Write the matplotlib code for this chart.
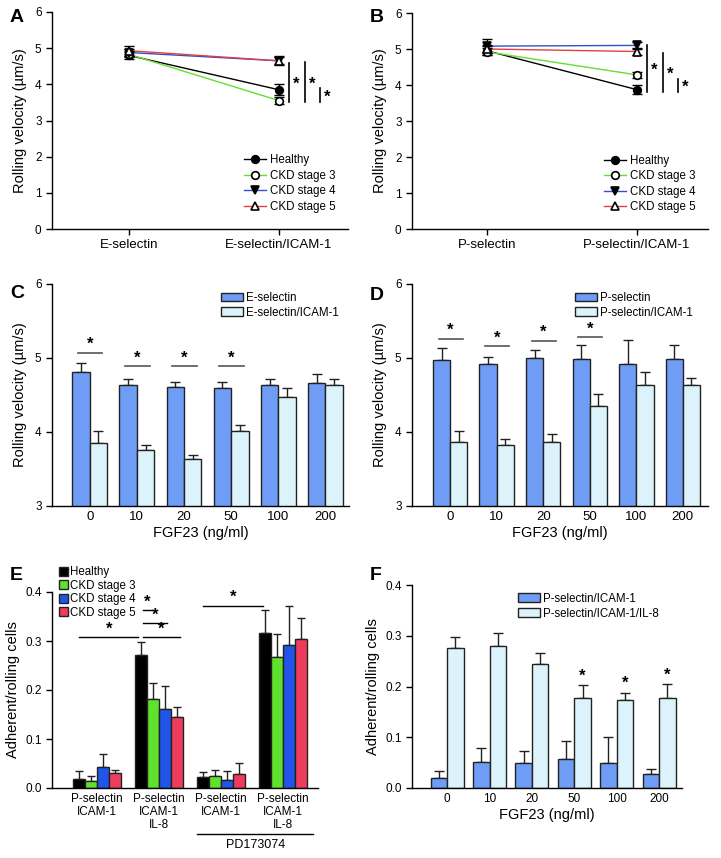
import matplotlib
matplotlib.use("Agg")
import matplotlib.pyplot as plt
import numpy as np
from matplotlib.patches import Patch
from matplotlib.lines import Line2D
from matplotlib.transforms import blended_transform_factory

plt.rcParams['font.family'] = ['Liberation Sans', 'DejaVu Sans']
plt.rcParams['font.size'] = 8.5
plt.rcParams['axes.linewidth'] = 1.0
plt.rcParams['xtick.major.width'] = 1.0
plt.rcParams['ytick.major.width'] = 1.0
plt.rcParams['xtick.major.size'] = 4
plt.rcParams['ytick.major.size'] = 4

# ---- data ----
groups_ckd = ['Healthy', 'CKD stage 3', 'CKD stage 4', 'CKD stage 5']

# panel A: E-selectin, E-selectin/ICAM-1
a_cats = ['E-selectin', 'E-selectin/ICAM-1']
a_mean = {'Healthy': [4.80, 3.85], 'CKD stage 3': [4.83, 3.55],
          'CKD stage 4': [4.88, 4.65], 'CKD stage 5': [4.93, 4.65]}
a_err = {'Healthy': [0.10, 0.15], 'CKD stage 3': [0.08, 0.10],
         'CKD stage 4': [0.10, 0.10], 'CKD stage 5': [0.14, 0.12]}

# panel B: P-selectin, P-selectin/ICAM-1
b_cats = ['P-selectin', 'P-selectin/ICAM-1']
b_mean = {'Healthy': [4.95, 3.87], 'CKD stage 3': [4.92, 4.28],
          'CKD stage 4': [5.08, 5.10], 'CKD stage 5': [5.00, 4.93]}
b_err = {'Healthy': [0.12, 0.12], 'CKD stage 3': [0.10, 0.08],
         'CKD stage 4': [0.20, 0.10], 'CKD stage 5': [0.12, 0.10]}

fgf_doses = ['0', '10', '20', '50', '100', '200']

# panel C
c_esel = [4.81, 4.63, 4.61, 4.59, 4.63, 4.66]
c_esel_err = [0.12, 0.09, 0.07, 0.09, 0.09, 0.13]
c_icam = [3.85, 3.76, 3.63, 4.02, 4.47, 4.63]
c_icam_err = [0.16, 0.06, 0.06, 0.07, 0.12, 0.09]
c_sig_y = [5.07, 4.89, 4.89, 4.89]

# panel D
d_psel = [4.97, 4.92, 5.00, 4.98, 4.92, 4.99]
d_psel_err = [0.17, 0.10, 0.11, 0.20, 0.32, 0.18]
d_icam = [3.87, 3.83, 3.86, 4.35, 4.64, 4.64]
d_icam_err = [0.14, 0.08, 0.11, 0.16, 0.17, 0.09]
d_sig_y = [5.26, 5.16, 5.23, 5.28]

# panel E
e_cats = ['P-selectin\nICAM-1', 'P-selectin\nICAM-1\nIL-8',
          'P-selectin\nICAM-1', 'P-selectin\nICAM-1\nIL-8']
e_mean = {'Healthy': [0.019, 0.271, 0.022, 0.317],
          'CKD stage 3': [0.014, 0.182, 0.025, 0.268],
          'CKD stage 4': [0.043, 0.162, 0.017, 0.291],
          'CKD stage 5': [0.031, 0.145, 0.029, 0.304]}
e_err = {'Healthy': [0.016, 0.027, 0.011, 0.046],
         'CKD stage 3': [0.010, 0.032, 0.011, 0.046],
         'CKD stage 4': [0.027, 0.046, 0.017, 0.081],
         'CKD stage 5': [0.005, 0.020, 0.022, 0.042]}

# panel F
f_icam = [0.020, 0.052, 0.050, 0.057, 0.050, 0.028]
f_icam_err = [0.013, 0.027, 0.022, 0.035, 0.050, 0.009]
f_il8 = [0.275, 0.279, 0.244, 0.178, 0.174, 0.177]
f_il8_err = [0.022, 0.027, 0.022, 0.024, 0.014, 0.027]
f_sig = [False, False, False, True, True, True]

line_colors = {'Healthy': 'black', 'CKD stage 3': '#66dd33',
               'CKD stage 4': '#3050d0', 'CKD stage 5': '#e04040'}
markers = {'Healthy': ('o', 'black'), 'CKD stage 3': ('o', 'white'),
           'CKD stage 4': ('v', 'black'), 'CKD stage 5': ('^', 'white')}
bar_colors = {'Healthy': 'black', 'CKD stage 3': '#5fe22d',
              'CKD stage 4': '#2155e8', 'CKD stage 5': '#ee3d5c'}
dark_blue = '#6f9cf4'
light_blue = '#dcf3fb'
edge = '#222222'

W, H = 721, 858
fig = plt.figure(figsize=(W / 100, H / 100), dpi=100)

YLAB = 10.5
STAR = 12


def axes_px(left, top, right, bottom):
    return fig.add_axes([left / W, 1 - bottom / H, (right - left) / W, (bottom - top) / H])


def clean(ax):
    ax.spines['top'].set_visible(False)
    ax.spines['right'].set_visible(False)
    ax.tick_params(labelsize=8.5, color='black')


def star(ax, x, y, **kw):
    ax.text(x, y, '*', fontsize=STAR, fontweight='bold', **kw)


def line_panel(ax, cats, mean, err, xlim, sig):
    x = np.arange(len(cats))
    for g in groups_ckd:
        m, fc = markers[g]
        ax.plot(x, mean[g], color=line_colors[g], lw=1, zorder=2)
        ax.errorbar(x, mean[g], yerr=err[g], fmt='none', ecolor='black',
                    elinewidth=1, capsize=3.5, capthick=1, zorder=3)
        ax.plot(x, mean[g], ls='none', marker=m, ms=5.5, mfc=fc, mec='black',
                mew=1.2, zorder=4)
    ax.set_xlim(*xlim)
    ax.set_ylim(0, 6)
    ax.set_yticks(range(7))
    ax.set_xticks(x)
    clean(ax)
    ax.set_xticklabels(cats, fontsize=9.5)
    ax.set_ylabel('Rolling velocity (µm/s)', fontsize=YLAB, labelpad=6)
    for xs, y0, y1 in sig:
        ax.plot([xs, xs], [y0, y1], color='black', lw=1.2, clip_on=False)
        star(ax, xs + 0.045, (y0 + y1) / 2 - 0.05, ha='center', va='center')
    handles = [Line2D([], [], color=line_colors[g], lw=1, marker=markers[g][0],
                      mfc=markers[g][1], mec='black', mew=1.2, ms=5.5)
               for g in groups_ckd]
    ax.legend(handles, groups_ckd, loc='upper left', bbox_to_anchor=(0.63, 0.37),
              frameon=False, fontsize=8.3, handlelength=1.9, labelspacing=0.3,
              borderpad=0, handletextpad=0.3)


def bar_panel(ax, v1, e1, v2, e2, w, xlim):
    x = np.arange(len(fgf_doses))
    ax.bar(x - w / 2, v1, w, color=dark_blue, edgecolor=edge, lw=1, zorder=2)
    ax.bar(x + w / 2, v2, w, color=light_blue, edgecolor=edge, lw=1, zorder=2)
    ax.errorbar(x - w / 2, v1, yerr=[np.zeros(len(v1)), e1], fmt='none',
                ecolor=edge, elinewidth=1, capsize=3.5, capthick=1, zorder=1)
    ax.errorbar(x + w / 2, v2, yerr=[np.zeros(len(v2)), e2], fmt='none',
                ecolor=edge, elinewidth=1, capsize=3.5, capthick=1, zorder=1)
    ax.set_xlim(*xlim)
    ax.set_xticks(x)
    clean(ax)
    ax.set_xticklabels(fgf_doses, fontsize=9.5)
    ax.set_xlabel('FGF23 (ng/ml)', fontsize=YLAB, labelpad=2)
    ax.tick_params(axis='x', length=0)
    return x


def two_legend(ax, labels, bx):
    ax.legend([Patch(fc=dark_blue, ec=edge), Patch(fc=light_blue, ec=edge)],
              labels, loc='upper left', bbox_to_anchor=(bx, 0.99), frameon=False,
              fontsize=8.3, handlelength=1.9, handleheight=0.8, labelspacing=0.25,
              borderpad=0, handletextpad=0.3)


# ---- A ----
axA = axes_px(52, 12, 348, 229)
line_panel(axA, a_cats, a_mean, a_err, (-0.513, 1.46),
           [(1.067, 3.51, 4.59), (1.173, 3.51, 4.62), (1.273, 3.51, 3.90)])

# ---- B ----
axB = axes_px(412, 13, 708, 229)
line_panel(axB, b_cats, b_mean, b_err, (-0.5, 1.473),
           [(1.067, 3.81, 5.11), (1.173, 3.81, 4.89), (1.273, 3.81, 4.17)])

# ---- C ----
axC = axes_px(52, 284, 349, 506)
x = bar_panel(axC, c_esel, c_esel_err, c_icam, c_icam_err, 0.37, (-0.8, 5.5))
axC.set_ylim(3, 6)
axC.set_yticks([3, 4, 5, 6])
axC.set_ylabel('Rolling velocity (µm/s)', fontsize=YLAB, labelpad=6)
for i, y in enumerate(c_sig_y):
    axC.plot([x[i] - 0.25, x[i] + 0.27], [y, y], color='#555555', lw=1.2)
    star(axC, x[i], y + 0.01, ha='center', va='bottom')
two_legend(axC, ['E-selectin', 'E-selectin/ICAM-1'], 0.55)

# ---- D ----
axD = axes_px(412, 284, 708, 506)
x = bar_panel(axD, d_psel, d_psel_err, d_icam, d_icam_err, 0.37, (-0.82, 5.54))
axD.set_ylim(3, 6)
axD.set_yticks([3, 4, 5, 6])
axD.set_ylabel('Rolling velocity (µm/s)', fontsize=YLAB, labelpad=6)
for i, y in enumerate(d_sig_y):
    axD.plot([x[i] - 0.25, x[i] + 0.27], [y, y], color='#555555', lw=1.2)
    star(axD, x[i], y + 0.01, ha='center', va='bottom')
two_legend(axD, ['P-selectin', 'P-selectin/ICAM-1'], 0.53)

# ---- E ----
axE = axes_px(52, 592, 318, 788)
xe = np.arange(len(e_cats))
bw = 0.195
for k, g in enumerate(groups_ckd):
    pos = xe + (k - 1.5) * bw
    axE.bar(pos, e_mean[g], bw, color=bar_colors[g], edgecolor=edge, lw=1, zorder=2)
    axE.errorbar(pos, e_mean[g], yerr=[np.zeros(4), e_err[g]], fmt='none',
                 ecolor=edge, elinewidth=1, capsize=3, capthick=1, zorder=1)
axE.set_xlim(-0.73, 3.56)
axE.set_ylim(0, 0.4)
axE.set_yticks([0.0, 0.1, 0.2, 0.3, 0.4])
axE.set_yticklabels(['0.0', '0.1', '0.2', '0.3', '0.4'])
axE.set_xticks(xe)
clean(axE)
axE.set_xticklabels(e_cats, fontsize=8.5, linespacing=1.1, va='top')
axE.set_ylabel('Adherent/rolling cells', fontsize=YLAB)
axE.tick_params(axis='x', length=0, labelsize=8.5)
e_sig = [(-0.29, 0.66, 0.308), (0.73, 1.34, 0.308), (0.73, 1.13, 0.336),
         (0.73, 0.89, 0.363), (1.71, 2.68, 0.372)]
for x0, x1, y in e_sig:
    axE.plot([x0, x1], [y, y], color='black', lw=1, clip_on=False)
    star(axE, (x0 + x1) / 2, y + 0.001, ha='center', va='bottom')
tr = blended_transform_factory(axE.transData, axE.transAxes)
axE.plot([1.61, 3.48], [-0.235, -0.235], color='black', lw=1, transform=tr, clip_on=False)
axE.text(2.55, -0.26, 'PD173074', fontsize=9, ha='center', va='top', transform=tr)
axE.legend([Patch(fc=bar_colors[g], ec=edge) for g in groups_ckd], groups_ckd,
           loc='upper left', bbox_to_anchor=(0.005, 1.16), frameon=False,
           fontsize=8.3, handlelength=0.8, handleheight=0.8, labelspacing=0.12,
           borderpad=0, handletextpad=0.15)

# ---- F ----
axF = axes_px(412, 585, 682, 788)
xf = np.arange(len(fgf_doses))
w = 0.39
axF.bar(xf - w / 2, f_icam, w, color=dark_blue, edgecolor=edge, lw=1, zorder=2)
axF.bar(xf + w / 2, f_il8, w, color=light_blue, edgecolor=edge, lw=1, zorder=2)
axF.errorbar(xf - w / 2, f_icam, yerr=[np.zeros(6), f_icam_err], fmt='none',
             ecolor=edge, elinewidth=1, capsize=3.5, capthick=1, zorder=1)
axF.errorbar(xf + w / 2, f_il8, yerr=[np.zeros(6), f_il8_err], fmt='none',
             ecolor=edge, elinewidth=1, capsize=3.5, capthick=1, zorder=1)
for i, s in enumerate(f_sig):
    if s:
        star(axF, xf[i] + w / 2, f_il8[i] + f_il8_err[i] + 0.003,
             ha='center', va='bottom')
axF.set_xlim(-0.83, 5.54)
axF.set_ylim(0, 0.4)
axF.set_yticks([0.0, 0.1, 0.2, 0.3, 0.4])
axF.set_yticklabels(['0.0', '0.1', '0.2', '0.3', '0.4'])
axF.set_xticks(xf)
clean(axF)
axF.set_xticklabels(fgf_doses, fontsize=8.5)
axF.set_xlabel('FGF23 (ng/ml)', fontsize=YLAB, labelpad=2)
axF.set_ylabel('Adherent/rolling cells', fontsize=YLAB)
axF.tick_params(axis='x', length=0)
two_legend(axF, ['P-selectin/ICAM-1', 'P-selectin/ICAM-1/IL-8'], 0.37)

# panel letters
for lab, px, py in [('A', 10, 18), ('B', 370, 18), ('C', 10, 293),
                    ('D', 370, 295), ('E', 10, 576), ('F', 370, 576)]:
    fig.text(px / W, 1 - py / H, lab, fontsize=14, fontweight='bold',
             ha='left', va='center', family='Liberation Sans')

fig.savefig('out.png', dpi=100)
